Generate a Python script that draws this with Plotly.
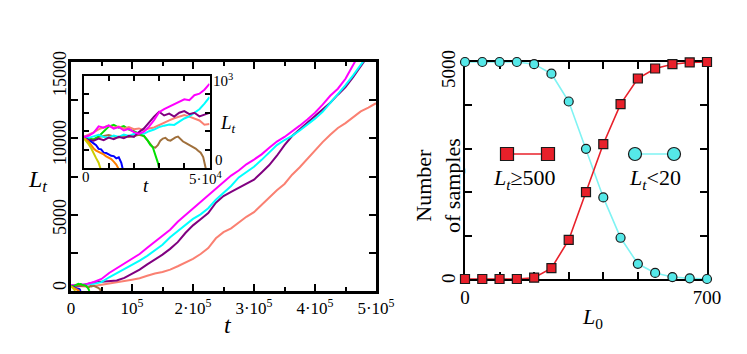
import plotly.graph_objects as go

W, H = 747, 354
FONT = "Liberation Serif, DejaVu Serif, serif"

# ---- main panel: samples that survive (t in units of 10^3) ----
t_main = [0, 12.5, 25, 37.5, 50, 62.5, 75, 87.5, 100, 112.5, 125, 137.5, 150, 162.5,
          175, 187.5, 200, 212.5, 225, 237.5, 250, 262.5, 275, 287.5, 300, 312.5, 325,
          337.5, 350, 362.5, 375, 387.5, 400, 412.5, 425, 437.5, 450, 462.5, 475, 487.5, 500]
L_magenta = [380, 400, 450, 590, 790, 1180, 1500, 1780, 2100, 2420, 2830, 3240, 3600, 4010,
             4530, 4960, 5380, 5820, 6230, 6690, 7120, 7560, 7890, 8300, 8610, 8950, 9390,
             9790, 10090, 10440, 10830, 11240, 11680, 12210, 12790, 13250, 13900, 14800, 15700, 16400, 17100]
L_cyan = [360, 380, 430, 480, 580, 900, 1170, 1430, 1690, 1990, 2300, 2670, 3030, 3520,
          3940, 4340, 4720, 5020, 5420, 5980, 6420, 6880, 7440, 7820, 8140, 8590, 9090,
          9560, 9890, 10160, 10510, 10870, 11290, 11730, 12290, 12880, 13480, 14120, 14790, 15500, 16200]
L_purple = [330, 310, 440, 550, 600, 620, 690, 860, 1130, 1400, 1740, 2050, 2380, 2760,
            3200, 3800, 4300, 4700, 5100, 5780, 6220, 6500, 6750, 7010, 7290, 7760, 8250,
            8860, 9560, 10150, 10590, 11040, 11460, 11880, 12330, 12860, 13360, 14010, 14720, 15450, 16150]
L_salmon = [350, 310, 290, 330, 400, 470, 560, 650, 740, 840, 1000, 1150, 1240, 1400,
            1620, 1860, 2110, 2420, 2810, 3450, 3850, 4100, 4480, 4860, 5160, 5650, 6130,
            6600, 7010, 7620, 8110, 8680, 9200, 9750, 10240, 10680, 11000, 11390, 11760, 12010, 12300]

# ---- inset: first 5*10^4 steps (t in units of 10^3) ----
t_ins = [0, 2, 4, 6, 8, 10, 12, 14, 16, 18, 20, 22, 24, 26, 28, 30, 32, 34, 36, 38, 40,
         42, 44, 46, 48, 50]
ins_magenta = [340, 352, 385, 455, 440, 466, 430, 447, 410, 428, 392, 372, 396, 452, 522,
               608, 642, 668, 694, 718, 748, 738, 792, 808, 852, 915]
ins_cyan = [340, 330, 346, 362, 340, 331, 356, 340, 366, 350, 372, 386, 374, 402, 420,
            446, 462, 474, 470, 502, 540, 562, 602, 640, 700, 770]
ins_purple = [330, 310, 300, 322, 305, 332, 315, 342, 325, 352, 340, 392, 432, 500, 560,
              612, 572, 592, 560, 602, 620, 586, 602, 562, 582, 600]
ins_salmon = [340, 362, 390, 422, 440, 462, 440, 452, 430, 446, 424, 432, 410, 432, 442,
              470, 492, 520, 542, 560, 578, 560, 542, 518, 472, 480]

t_green = [0, 2, 4, 6, 8, 10, 12, 14, 16, 18, 20, 22, 24, 25.5, 26.5, 27.5, 28.5, 29.5, 30]
L_green = [335, 320, 310, 346, 402, 452, 470, 440, 456, 420, 402, 378, 350, 300, 255, 228, 150, 62, 0]
t_brown = [0, 2, 4, 6, 8, 10, 12, 14, 16, 18, 20, 22, 24, 25.5, 26.5, 27.5, 28.5, 29.5, 30.5,
           31.5, 32.5, 33.5, 34.5, 35.5, 36.5, 37.5, 38.5, 39.5, 40.5, 41.5, 42.5, 43.5, 44.5,
           45.5, 46.5, 47.5, 48, 48.5]
L_brown = [330, 318, 312, 340, 350, 360, 345, 335, 352, 340, 350, 362, 350, 302, 258, 230,
           224, 250, 300, 322, 330, 306, 300, 322, 335, 344, 312, 290, 276, 262, 244, 236,
           214, 190, 168, 122, 70, 0]
t_blue = [0, 1, 2, 3, 4, 5, 6, 7, 8, 9, 10, 11, 12, 13, 14, 15, 15.5]
L_blue = [330, 320, 300, 290, 270, 250, 210, 205, 170, 165, 150, 135, 132, 108, 120, 60, 0]
t_orange = [0, 1, 2, 3, 4, 5, 6, 7, 8, 9, 10, 11, 12, 13, 13.8]
L_orange = [330, 315, 290, 250, 215, 192, 180, 165, 150, 130, 115, 100, 72, 40, 0]
t_yellow = [0, 1, 2, 3, 4, 5, 6, 6.7]
L_yellow = [330, 300, 262, 220, 160, 110, 60, 0]

# ---- right panel ----
L0 = [0, 50, 100, 150, 200, 250, 300, 350, 400, 450, 500, 550, 600, 650, 700]
n_ge500 = [0, 0, 0, 0, 30, 250, 900, 2000, 3110, 4030, 4620, 4850, 4950, 4990, 5000]
n_lt20 = [5000, 5000, 5000, 5000, 4950, 4730, 4090, 3000, 1880, 950, 350, 140, 45, 15, 0]

C_MAG, C_CYAN, C_PUR, C_SAL = "#ff00ff", "#00ffff", "#800080", "#fa8072"
C_GREEN, C_BROWN, C_BLUE, C_ORANGE, C_YELLOW = "#00e000", "#a0703c", "#0000ff", "#ff8000", "#cccc00"
C_RED, C_LCYAN = "#e8202a", "#55e8e8"


def px(x):
    return x / W


def py(y):
    return 1 - y / H


fig = go.Figure()

dying = [(t_brown, L_brown, C_BROWN), (t_green, L_green, C_GREEN), (t_blue, L_blue, C_BLUE),
         (t_orange, L_orange, C_ORANGE), (t_yellow, L_yellow, C_YELLOW)]

# main
for ys, c in [(L_salmon, C_SAL), (L_purple, C_PUR), (L_cyan, C_CYAN), (L_magenta, C_MAG)]:
    fig.add_trace(go.Scatter(x=t_main, y=ys, mode="lines", line=dict(color=c, width=2),
                             xaxis="x", yaxis="y"))
for ts, ys, c in dying:
    fig.add_trace(go.Scatter(x=ts, y=ys, mode="lines", line=dict(color=c, width=2),
                             xaxis="x", yaxis="y"))

# inset
for ts, ys, c in dying[:2]:
    fig.add_trace(go.Scatter(x=ts, y=ys, mode="lines", line=dict(color=c, width=2),
                             xaxis="x2", yaxis="y2"))
for ys, c in [(ins_salmon, C_SAL), (ins_cyan, C_CYAN), (ins_purple, C_PUR)]:
    fig.add_trace(go.Scatter(x=t_ins, y=ys, mode="lines", line=dict(color=c, width=2),
                             xaxis="x2", yaxis="y2"))
for ts, ys, c in dying[2:]:
    fig.add_trace(go.Scatter(x=ts, y=ys, mode="lines", line=dict(color=c, width=2),
                             xaxis="x2", yaxis="y2"))
fig.add_trace(go.Scatter(x=t_ins, y=ins_magenta, mode="lines", line=dict(color=C_MAG, width=2),
                         xaxis="x2", yaxis="y2"))

# right panel
fig.add_trace(go.Scatter(x=L0, y=n_lt20, mode="lines+markers", cliponaxis=False,
                         line=dict(color="#7ff3f3", width=1.6),
                         marker=dict(symbol="circle", size=9, color=C_LCYAN,
                                     line=dict(color="#1a1a1a", width=1.2)),
                         xaxis="x3", yaxis="y3"))
fig.add_trace(go.Scatter(x=L0, y=n_ge500, mode="lines+markers", cliponaxis=False,
                         line=dict(color=C_RED, width=1.6),
                         marker=dict(symbol="square", size=9, color=C_RED,
                                     line=dict(color="#1a1a1a", width=1.2)),
                         xaxis="x3", yaxis="y3"))

axis_common = dict(showgrid=False, zeroline=False, showline=True, linecolor="black",
                   ticks="inside", tickcolor="black", mirror="ticks", automargin=False,
                   tickfont=dict(family=FONT, size=17, color="black"))

fig.update_layout(
    width=W, height=H,
    margin=dict(l=0, r=0, t=0, b=0, pad=0),
    paper_bgcolor="white", plot_bgcolor="white",
    showlegend=False,
    font=dict(family=FONT, color="black"),
    xaxis=dict(axis_common, domain=[px(71), px(376)], anchor="y", range=[0, 500],
               linewidth=2.5, tickwidth=2, ticklen=7,
               tickvals=[0, 100, 200, 300, 400, 500],
               ticktext=["0", "10<sup>5</sup>", "2·10<sup>5</sup>", "3·10<sup>5</sup>",
                         "4·10<sup>5</sup>", "5·10<sup>5</sup>"],
               minor=dict(tickvals=[50, 150, 250, 350, 450], ticks="inside", ticklen=4,
                          tickwidth=2, tickcolor="black")),
    yaxis=dict(axis_common, domain=[py(291), py(62)], anchor="x", range=[0, 15000],
               linewidth=2.5, tickwidth=2, ticklen=7, showticklabels=False,
               tickvals=[0, 5000, 10000, 15000],
               minor=dict(tickvals=[2500, 7500, 12500], ticks="inside", ticklen=7,
                          tickwidth=2, tickcolor="black")),
    xaxis2=dict(axis_common, domain=[px(83.5), px(209.5)], anchor="y2", range=[0, 50],
                linewidth=2, tickwidth=1.5, ticklen=5, dtick=10, showticklabels=False),
    yaxis2=dict(axis_common, domain=[py(168.3), py(76)], anchor="x2", range=[0, 1000],
                linewidth=2, tickwidth=1.5, ticklen=5, dtick=200, showticklabels=False),
    xaxis3=dict(axis_common, domain=[px(465), px(707)], anchor="y3", range=[0, 700],
                linewidth=2, tickwidth=2, ticklen=7, layer="below traces",
                tickvals=[0, 100, 200, 300, 400, 500, 600, 700],
                ticktext=["0", "", "", "", "", "", "", "700"],
                tickfont=dict(family=FONT, size=19, color="black")),
    yaxis3=dict(axis_common, domain=[py(279), py(62)], anchor="x3", range=[0, 5000],
                linewidth=2, tickwidth=2, ticklen=7, layer="below traces",
                tickvals=[0, 1000, 2000, 3000, 4000, 5000], showticklabels=False),
)


def label(text, x, y, size, xanchor="center", angle=0):
    fig.add_annotation(text=text, x=px(x), y=py(y), xref="paper", yref="paper",
                       showarrow=False, xanchor=xanchor, yanchor="middle", textangle=angle,
                       font=dict(family=FONT, size=size, color="black"))


# rotated y tick labels, placed as in the original figure
label("15000", 60, 74, 18, angle=-90)
label("10000", 60, 143, 18, angle=-90)
label("5000", 60, 217, 18, angle=-90)
label("0", 60, 286, 18, angle=-90)
label("5000", 448, 69, 19, angle=-90)
label("0", 448, 278, 19, angle=-90)

label("<i>L<sub>t</sub></i>", 37, 181, 24)
label("<i>t</i>", 228, 325, 24)
# inset labels
label("10<sup>3</sup>", 211, 80, 15, xanchor="left")
label("0", 213, 160, 15, xanchor="left")
label("<i>L<sub>t</sub></i>", 228, 124, 19)
label("0", 86, 177, 15)
label("5·10<sup>4</sup>", 206, 178, 15)
label("<i>t</i>", 146, 185, 19)
# right panel labels
label("Number<br>of samples", 438, 186, 22, angle=-90)
label("<i>L</i><sub>0</sub>", 592, 318, 22)
label("<i>L<sub>t</sub></i>≥500", 524, 179, 22)
label("<i>L<sub>t</sub></i><20", 655, 179, 22)

# legend keys for the right panel
fig.add_shape(type="line", xref="paper", yref="paper", x0=px(507), x1=px(548),
              y0=py(154), y1=py(154), line=dict(color=C_RED, width=1.6))
fig.add_shape(type="line", xref="paper", yref="paper", x0=px(635), x1=px(674),
              y0=py(154), y1=py(154), line=dict(color="#7ff3f3", width=1.6))
for cx in (507, 548):
    fig.add_shape(type="rect", xref="paper", yref="paper", x0=px(cx - 6.5), x1=px(cx + 6.5),
                  y0=py(160.5), y1=py(147.5), fillcolor=C_RED, line=dict(color="#1a1a1a", width=1.2))
for cx in (635, 674):
    fig.add_shape(type="circle", xref="paper", yref="paper", x0=px(cx - 6.5), x1=px(cx + 6.5),
                  y0=py(160.5), y1=py(147.5), fillcolor=C_LCYAN, line=dict(color="#1a1a1a", width=1.2))

# the page's default body margin would shift the figure by 8px
fig.write_html("out.html", config={"displayModeBar": False},
               post_script="document.body.style.margin = '0';")
